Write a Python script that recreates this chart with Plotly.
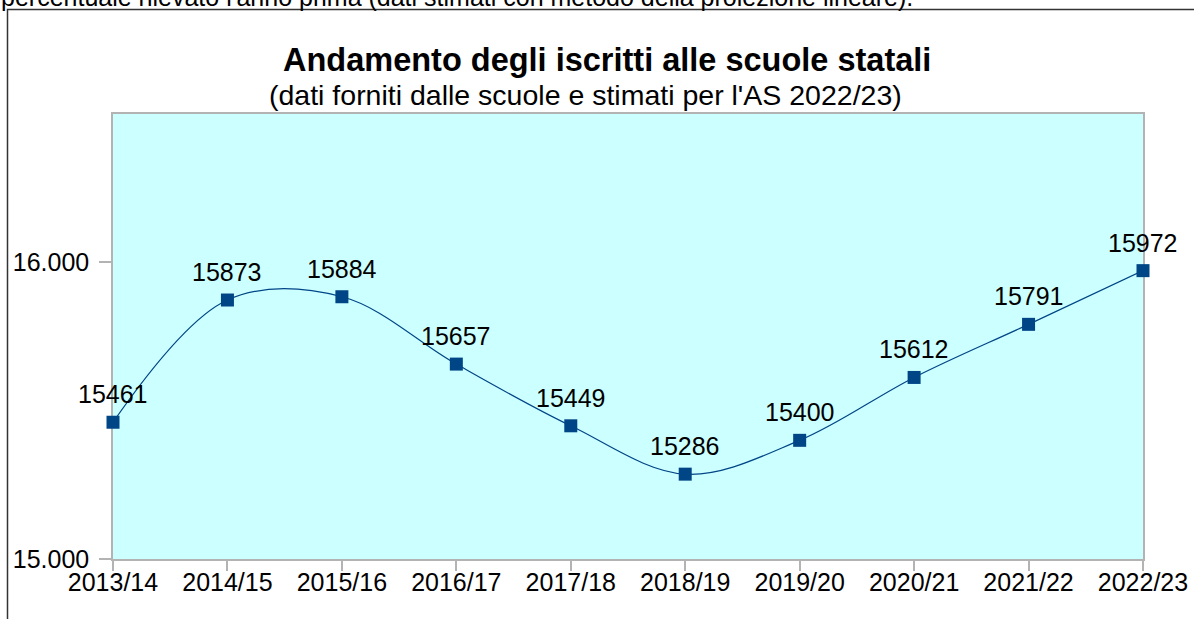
import plotly.graph_objects as go

categories = ["2013/14", "2014/15", "2015/16", "2016/17", "2017/18",
              "2018/19", "2019/20", "2020/21", "2021/22", "2022/23"]
iscritti = [15461, 15873, 15884, 15657, 15449, 15286, 15400, 15612, 15791, 15972]
y_ticks = [15000, 16000]

W, H = 1194, 619
L, R, T, B = 113, 51, 114, 60
PW, PH = W - L - R, H - T - B


def px(xp):
    return (xp - L) / PW


def py(yp):
    return (H - B - yp) / PH


FONT = "Liberation Sans, Arial, sans-serif"
BLUE = "#004586"

fig = go.Figure()
fig.add_trace(go.Scatter(
    x=categories, y=iscritti, mode="lines+markers",
    line=dict(color=BLUE, width=1.2, shape="spline", smoothing=1.0),
    marker=dict(symbol="square", size=13, color=BLUE, line=dict(width=0)),
    cliponaxis=False, showlegend=False, hoverinfo="x+y",
))

for c, v in zip(categories, iscritti):
    fig.add_annotation(x=c, y=v, xref="x", yref="y", text=str(v),
                       showarrow=False, yshift=28, yanchor="middle",
                       font=dict(family=FONT, size=25, color="#000000"))

# titles
fig.add_annotation(x=px(607), y=py(60), xref="paper", yref="paper",
                   text="<b>Andamento degli iscritti alle scuole statali</b>",
                   showarrow=False, xanchor="center", yanchor="middle",
                   font=dict(family=FONT, size=32.5, color="#000000"))
fig.add_annotation(x=px(585), y=py(95), xref="paper", yref="paper",
                   text="(dati forniti dalle scuole e stimati per l'AS 2022/23)",
                   showarrow=False, xanchor="center", yanchor="middle",
                   font=dict(family=FONT, size=28.5, color="#000000"))
# cut-off text line above the chart frame
fig.add_annotation(x=px(-1), y=py(-3), xref="paper", yref="paper",
                   text="percentuale rilevato l'anno prima (dati stimati con metodo della proiezione lineare).",
                   showarrow=False, xanchor="left", yanchor="middle",
                   font=dict(family=FONT, size=25, color="#000000"))

# outer frame (left and top edges visible)
fig.add_shape(type="path", xref="paper", yref="paper",
              path=f"M {px(7.5)} {py(700)} L {px(7.5)} {py(9.5)} L {px(1300)} {py(9.5)}",
              line=dict(color="#333333", width=1.5))

fig.update_layout(
    width=W, height=H,
    margin=dict(l=L, r=R, t=T, b=B, pad=0, autoexpand=False),
    paper_bgcolor="#ffffff", plot_bgcolor="#ccffff",
    separators=",.",
    font=dict(family=FONT, size=25, color="#000000"),
    xaxis=dict(type="category", range=[0, len(categories) - 1],
               automargin=False, layer="below traces",
               showgrid=False, zeroline=False,
               showline=True, linecolor="#b3b3b3", linewidth=1.5, mirror=True,
               ticks="outside", ticklen=10, tickcolor="#b3b3b3", tickwidth=1.5,
               ticklabelstandoff=-10,
               tickfont=dict(family=FONT, size=25, color="#000000")),
    yaxis=dict(range=[15000, 16500], tickvals=y_ticks, tickformat=",d",
               automargin=False, layer="below traces",
               showgrid=False, zeroline=False,
               showline=True, linecolor="#b3b3b3", linewidth=1.5, mirror=True,
               ticks="outside", ticklen=12, tickcolor="#b3b3b3", tickwidth=1.5,
               ticklabelstandoff=5,
               tickfont=dict(family=FONT, size=25, color="#000000")),
)

fig.write_html("out.html")
